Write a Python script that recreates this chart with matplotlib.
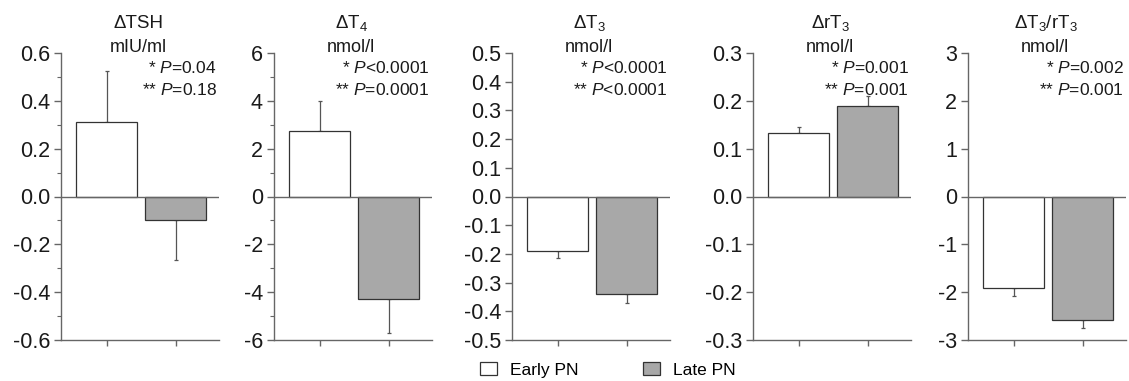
import matplotlib
matplotlib.use("Agg")
import matplotlib.pyplot as plt
from matplotlib.patches import Patch

plt.rcParams['font.family'] = ['Liberation Sans', 'DejaVu Sans']
plt.rcParams['mathtext.fontset'] = 'custom'
plt.rcParams['mathtext.rm'] = 'Liberation Sans'
plt.rcParams['mathtext.it'] = 'Liberation Sans:italic'

# ---- data ----
titles = ["ΔTSH", "ΔT$_4$", "ΔT$_3$", "ΔrT$_3$", "ΔT$_3$/rT$_3$"]
units = ["mIU/ml", "nmol/l", "nmol/l", "nmol/l", "nmol/l"]
early = [0.31, 2.75, -0.19, 0.133, -1.92]
early_err = [0.215, 1.25, 0.025, 0.012, 0.15]
late = [-0.10, -4.3, -0.34, 0.19, -2.58]
late_err = [0.165, 1.4, 0.03, 0.02, 0.17]
p1 = ["=0.04", "<0.0001", "<0.0001", "=0.001", "=0.002"]
p2 = ["=0.18", "=0.0001", "<0.0001", "=0.001", "=0.001"]
ylims = [(-0.6, 0.6), (-6, 6), (-0.5, 0.5), (-0.3, 0.3), (-3, 3)]
yticks = [
    [-0.6, -0.4, -0.2, 0.0, 0.2, 0.4, 0.6],
    [-6, -4, -2, 0, 2, 4, 6],
    [-0.5, -0.4, -0.3, -0.2, -0.1, 0.0, 0.1, 0.2, 0.3, 0.4, 0.5],
    [-0.3, -0.2, -0.1, 0.0, 0.1, 0.2, 0.3],
    [-3, -2, -1, 0, 1, 2, 3],
]
ytick_fmt = ["{:.1f}", "{:.0f}", "{:.1f}", "{:.1f}", "{:.0f}"]
minor_on = [True, True, False, False, False]
legend_labels = ["Early PN", "Late PN"]

W, H = 1129, 381
fig = plt.figure(figsize=(W / 100, H / 100), dpi=100)

lefts = [61, 274, 512, 753, 968]
ax_w = 158
top_px, bot_px = 53, 340
axh = bot_px - top_px
axcol = "#666666"
edgecol = "#333333"
graycol = "#a8a8a8"
txtcol = "#1a1a1a"

for i in range(5):
    ax = fig.add_axes([lefts[i] / W, 1 - bot_px / H, ax_w / W, axh / H])
    x = [0, 1]
    ax.bar(x, [early[i], late[i]], width=0.88, color=["white", graycol],
           edgecolor=edgecol, linewidth=0.9, zorder=3)
    # one-sided error bars (away from zero)
    for xi, v, e in zip(x, [early[i], late[i]], [early_err[i], late_err[i]]):
        lo = [0] if v >= 0 else [e]
        hi = [e] if v >= 0 else [0]
        ax.errorbar(xi, v, yerr=[lo, hi], fmt="none", ecolor="#555555",
                    elinewidth=0.9, capsize=1.5, capthick=0.9, zorder=2)
    ax.axhline(0, color=axcol, lw=1.0, zorder=4)
    ax.set_xlim(-0.66, 1.63)
    ax.set_ylim(*ylims[i])
    ax.set_yticks(yticks[i])
    ax.set_yticklabels([ytick_fmt[i].format(t) for t in yticks[i]], fontsize=15.5, color=txtcol)
    if minor_on[i]:
        lo_, hi_ = ylims[i]
        step = (yticks[i][1] - yticks[i][0]) / 2
        ax.set_yticks([lo_ + step * k for k in range(1, int(round((hi_ - lo_) / step)), 2)], minor=True)
    ax.set_xticks(x)
    ax.set_xticklabels(["", ""])
    for s in ["top", "right"]:
        ax.spines[s].set_visible(False)
    for s in ["left", "bottom"]:
        ax.spines[s].set_color(axcol)
        ax.spines[s].set_linewidth(1.0)
    ax.tick_params(axis="y", which="major", direction="out", length=5, width=1.0, color=axcol, pad=3)
    ax.tick_params(axis="y", which="minor", direction="out", length=3, width=0.8, color=axcol)
    ax.tick_params(axis="x", direction="out", length=4, width=1.0, color=axcol)
    ax.set_facecolor("none")

    cx = 0.49
    ax.text(cx, 1.0 + 30 / axh, titles[i], transform=ax.transAxes, ha="center",
            va="center", fontsize=13.5, color=txtcol)
    ax.text(cx, 1.0 + 6 / axh, units[i], transform=ax.transAxes, ha="center",
            va="center", fontsize=13, color=txtcol)
    ax.text(0.985, 1.0 - 15 / axh, "* $P$" + p1[i], transform=ax.transAxes, ha="right",
            va="center", fontsize=12.5, color=txtcol)
    ax.text(0.985, 1.0 - 37 / axh, "** $P$" + p2[i], transform=ax.transAxes, ha="right",
            va="center", fontsize=12.5, color=txtcol)

handles = [Patch(facecolor="white", edgecolor=edgecol, linewidth=0.9),
           Patch(facecolor=graycol, edgecolor=edgecol, linewidth=0.9)]
fig.legend(handles, legend_labels, loc="center", bbox_to_anchor=(608 / W, 1 - 370 / H),
           ncol=2, frameon=False, fontsize=12.5, columnspacing=3.7, handlelength=1.0,
           handleheight=0.8, handletextpad=0.75, borderpad=0.0)

fig.savefig("out.png", dpi=100)
